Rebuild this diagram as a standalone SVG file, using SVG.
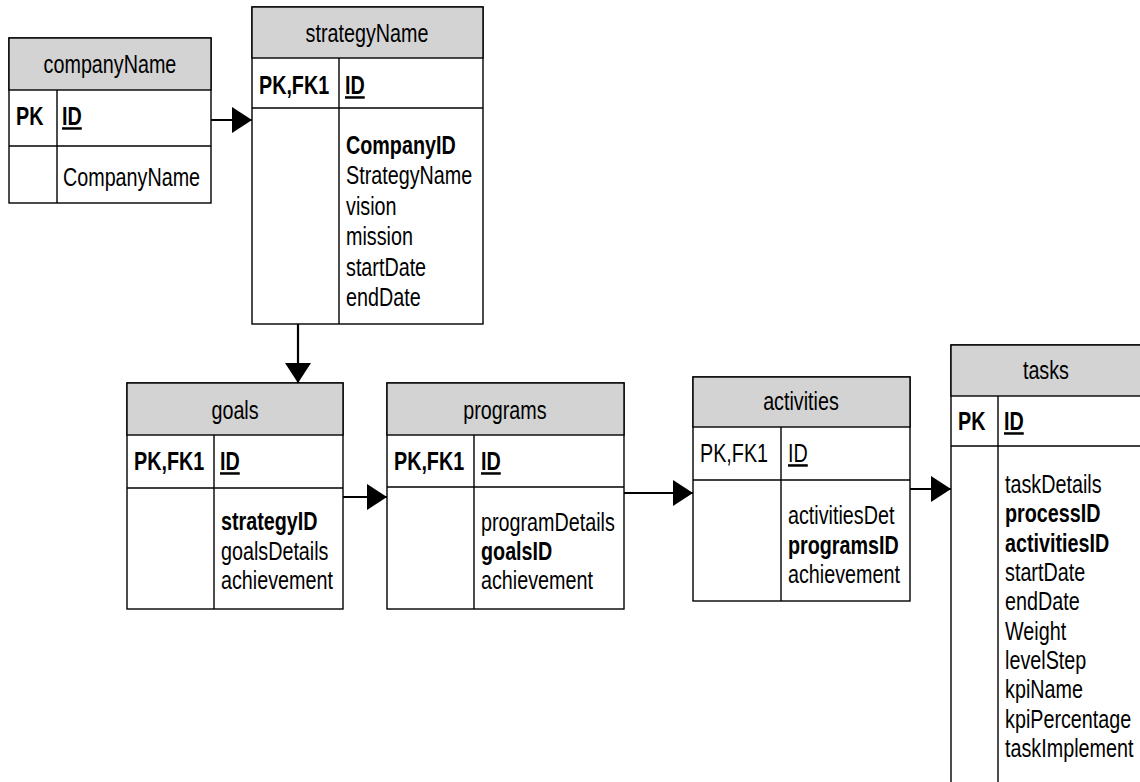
<svg xmlns="http://www.w3.org/2000/svg" width="1140" height="782" viewBox="0 0 1140 782">
<style>
text{font-family:"Liberation Sans",Arial,sans-serif;font-size:25px;fill:#000}
.h{text-anchor:middle}
.b{font-weight:bold}
.u{text-decoration:underline}
.box{fill:#fff;stroke:#000;stroke-width:1.4}
.hd{fill:#d3d3d3;stroke:#000;stroke-width:1.4}
.ln{stroke:#000;stroke-width:1.4;fill:none}
.cn{stroke:#000;stroke-width:2.2;fill:none}
</style>
<defs>
<marker id="ah" viewBox="0 0 20 26" refX="20" refY="13" markerWidth="20" markerHeight="26" markerUnits="userSpaceOnUse" orient="auto">
<path d="M0,0 L20,13 L0,26 Z" fill="#000"/>
</marker>
</defs>
<rect width="1140" height="782" fill="#fff"/>

<g id="companyName">
<rect class="box" x="9" y="38" width="202" height="165"/>
<rect class="hd" x="9" y="38" width="202" height="52"/>
<line class="ln" x1="9" y1="146" x2="211" y2="146"/>
<line class="ln" x1="57" y1="90" x2="57" y2="203"/>
<g transform="scale(0.79 1)">
<text class="h" x="139.2" y="73">companyName</text>
<text class="b" x="20.3" y="125">PK</text>
<text class="b u" x="78.5" y="125">ID</text>
<text x="79.7" y="186">CompanyName</text>
</g>
</g>

<g id="strategyName">
<rect class="box" x="252" y="7" width="231" height="317"/>
<rect class="hd" x="252" y="7" width="231" height="51"/>
<line class="ln" x1="252" y1="108" x2="483" y2="108"/>
<line class="ln" x1="339" y1="58" x2="339" y2="324"/>
<g transform="scale(0.79 1)">
<text class="h" x="464.6" y="42">strategyName</text>
<text class="b" x="327.8" y="94">PK,FK1</text>
<text class="b u" x="436.7" y="94">ID</text>
<text class="b" x="438" y="154">CompanyID</text>
<text x="438" y="184">StrategyName</text>
<text x="438" y="215">vision</text>
<text x="438" y="245">mission</text>
<text x="438" y="276">startDate</text>
<text x="438" y="306">endDate</text>
</g>
</g>

<g id="goals">
<rect class="box" x="127" y="383" width="216" height="226"/>
<rect class="hd" x="127" y="383" width="216" height="52"/>
<line class="ln" x1="127" y1="488" x2="343" y2="488"/>
<line class="ln" x1="214" y1="435" x2="214" y2="609"/>
<g transform="scale(0.79 1)">
<text class="h" x="297.5" y="419">goals</text>
<text class="b" x="169.6" y="470">PK,FK1</text>
<text class="b u" x="278.5" y="470">ID</text>
<text class="b" x="279.7" y="530">strategyID</text>
<text x="279.7" y="560">goalsDetails</text>
<text x="279.7" y="589">achievement</text>
</g>
</g>

<g id="programs">
<rect class="box" x="387" y="383" width="237" height="226"/>
<rect class="hd" x="387" y="383" width="237" height="52"/>
<line class="ln" x1="387" y1="487" x2="624" y2="487"/>
<line class="ln" x1="474" y1="435" x2="474" y2="609"/>
<g transform="scale(0.79 1)">
<text class="h" x="639.2" y="419">programs</text>
<text class="b" x="498.7" y="470">PK,FK1</text>
<text class="b u" x="608.9" y="470">ID</text>
<text x="608.9" y="531">programDetails</text>
<text class="b" x="608.9" y="560">goalsID</text>
<text x="608.9" y="589">achievement</text>
</g>
</g>

<g id="activities">
<rect class="box" x="693" y="377" width="217" height="224"/>
<rect class="hd" x="693" y="377" width="217" height="50"/>
<line class="ln" x1="693" y1="480" x2="910" y2="480"/>
<line class="ln" x1="781" y1="427" x2="781" y2="601"/>
<g transform="scale(0.79 1)">
<text class="h" x="1013.9" y="410">activities</text>
<text x="886.1" y="462">PK,FK1</text>
<text class="u" x="997.5" y="462">ID</text>
<text x="997.5" y="524">activitiesDet</text>
<text class="b" x="997.5" y="554">programsID</text>
<text x="997.5" y="583">achievement</text>
</g>
</g>

<g id="tasks">
<rect class="box" x="951" y="345" width="200" height="450"/>
<rect class="hd" x="951" y="345" width="200" height="51"/>
<line class="ln" x1="951" y1="446" x2="1151" y2="446"/>
<line class="ln" x1="998" y1="396" x2="998" y2="795"/>
<g transform="scale(0.79 1)">
<text class="h" x="1324" y="379">tasks</text>
<text class="b" x="1212.7" y="430">PK</text>
<text class="b u" x="1270.9" y="430">ID</text>
<text x="1272.2" y="493">taskDetails</text>
<text class="b" x="1272.2" y="522">processID</text>
<text class="b" x="1272.2" y="552">activitiesID</text>
<text x="1272.2" y="581">startDate</text>
<text x="1272.2" y="610">endDate</text>
<text x="1272.2" y="640">Weight</text>
<text x="1272.2" y="669">levelStep</text>
<text x="1272.2" y="698">kpiName</text>
<text x="1272.2" y="728">kpiPercentage</text>
<text x="1272.2" y="757">taskImplement</text>
</g>
</g>

<g id="connectors">
<line class="cn" x1="211" y1="120" x2="252" y2="120" marker-end="url(#ah)"/>
<line class="cn" x1="298" y1="324" x2="298" y2="383" marker-end="url(#ah)"/>
<line class="cn" x1="343" y1="497" x2="387" y2="497" marker-end="url(#ah)"/>
<line class="cn" x1="624" y1="493" x2="693" y2="493" marker-end="url(#ah)"/>
<line class="cn" x1="910" y1="489" x2="951" y2="489" marker-end="url(#ah)"/>
</g>
</svg>
